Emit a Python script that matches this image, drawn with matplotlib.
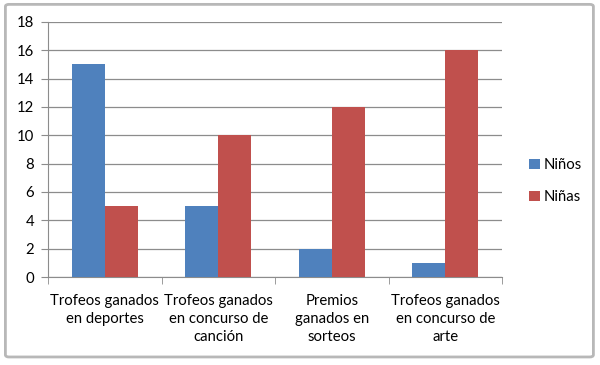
import numpy as np
import matplotlib
matplotlib.use('Agg')
import matplotlib.pyplot as plt
from matplotlib.patches import FancyBboxPatch

categorias = ["Trofeos ganados\nen deportes",
              "Trofeos ganados\nen concurso de\ncanción",
              "Premios\nganados en\nsorteos",
              "Trofeos ganados\nen concurso de\narte"]
ninos = [15, 5, 2, 1]
ninas = [5, 10, 12, 16]
yticks = [0, 2, 4, 6, 8, 10, 12, 14, 16, 18]

plt.rcParams['font.family'] = ['Lato', 'DejaVu Sans']
fs = 10.7

fig = plt.figure(figsize=(6, 3.65), dpi=100)
fig.patch.set_facecolor('white')

# chart frame like the Excel screenshot
fig.patches.append(FancyBboxPatch((0.009, 0.022), 0.98, 0.966,
                                  boxstyle="round,pad=0,rounding_size=0.006",
                                  transform=fig.transFigure, fill=False,
                                  edgecolor='#b8b8b8', linewidth=2))

ax = fig.add_axes([0.08, 0.241, 0.757, 0.699])

x = np.arange(len(categorias))
w = 0.29
ax.bar(x - w/2, ninos, w, color='#4F81BD', label='Niños', zorder=3)
ax.bar(x + w/2, ninas, w, color='#C0504D', label='Niñas', zorder=3)

ax.set_xlim(-0.5, len(categorias) - 0.5)
ax.set_ylim(0, 18)
ax.set_yticks(yticks)
ax.yaxis.grid(True, color='#8c8c8c', linewidth=0.9, zorder=0)
ax.set_axisbelow(True)

ax.set_xticks(x)
ax.set_xticklabels(categorias, fontsize=fs, linespacing=1.38)
ax.set_xticks(np.arange(len(categorias) + 1) - 0.5, minor=True)
ax.tick_params(axis='x', which='major', length=0, pad=12)
ax.tick_params(axis='x', which='minor', length=5, color='#8c8c8c', direction='out')
ax.tick_params(axis='y', length=5, color='#8c8c8c', labelsize=fs, pad=5)

for s in ['top', 'right']:
    ax.spines[s].set_visible(False)
for s in ['left', 'bottom']:
    ax.spines[s].set_color('#8c8c8c')

ax.legend(loc='center left', bbox_to_anchor=(1.03, 0.375), frameon=False,
          fontsize=fs, handlelength=0.7, handleheight=0.7, handletextpad=0.3,
          labelspacing=1.2)

plt.savefig('out.png', dpi=100)
